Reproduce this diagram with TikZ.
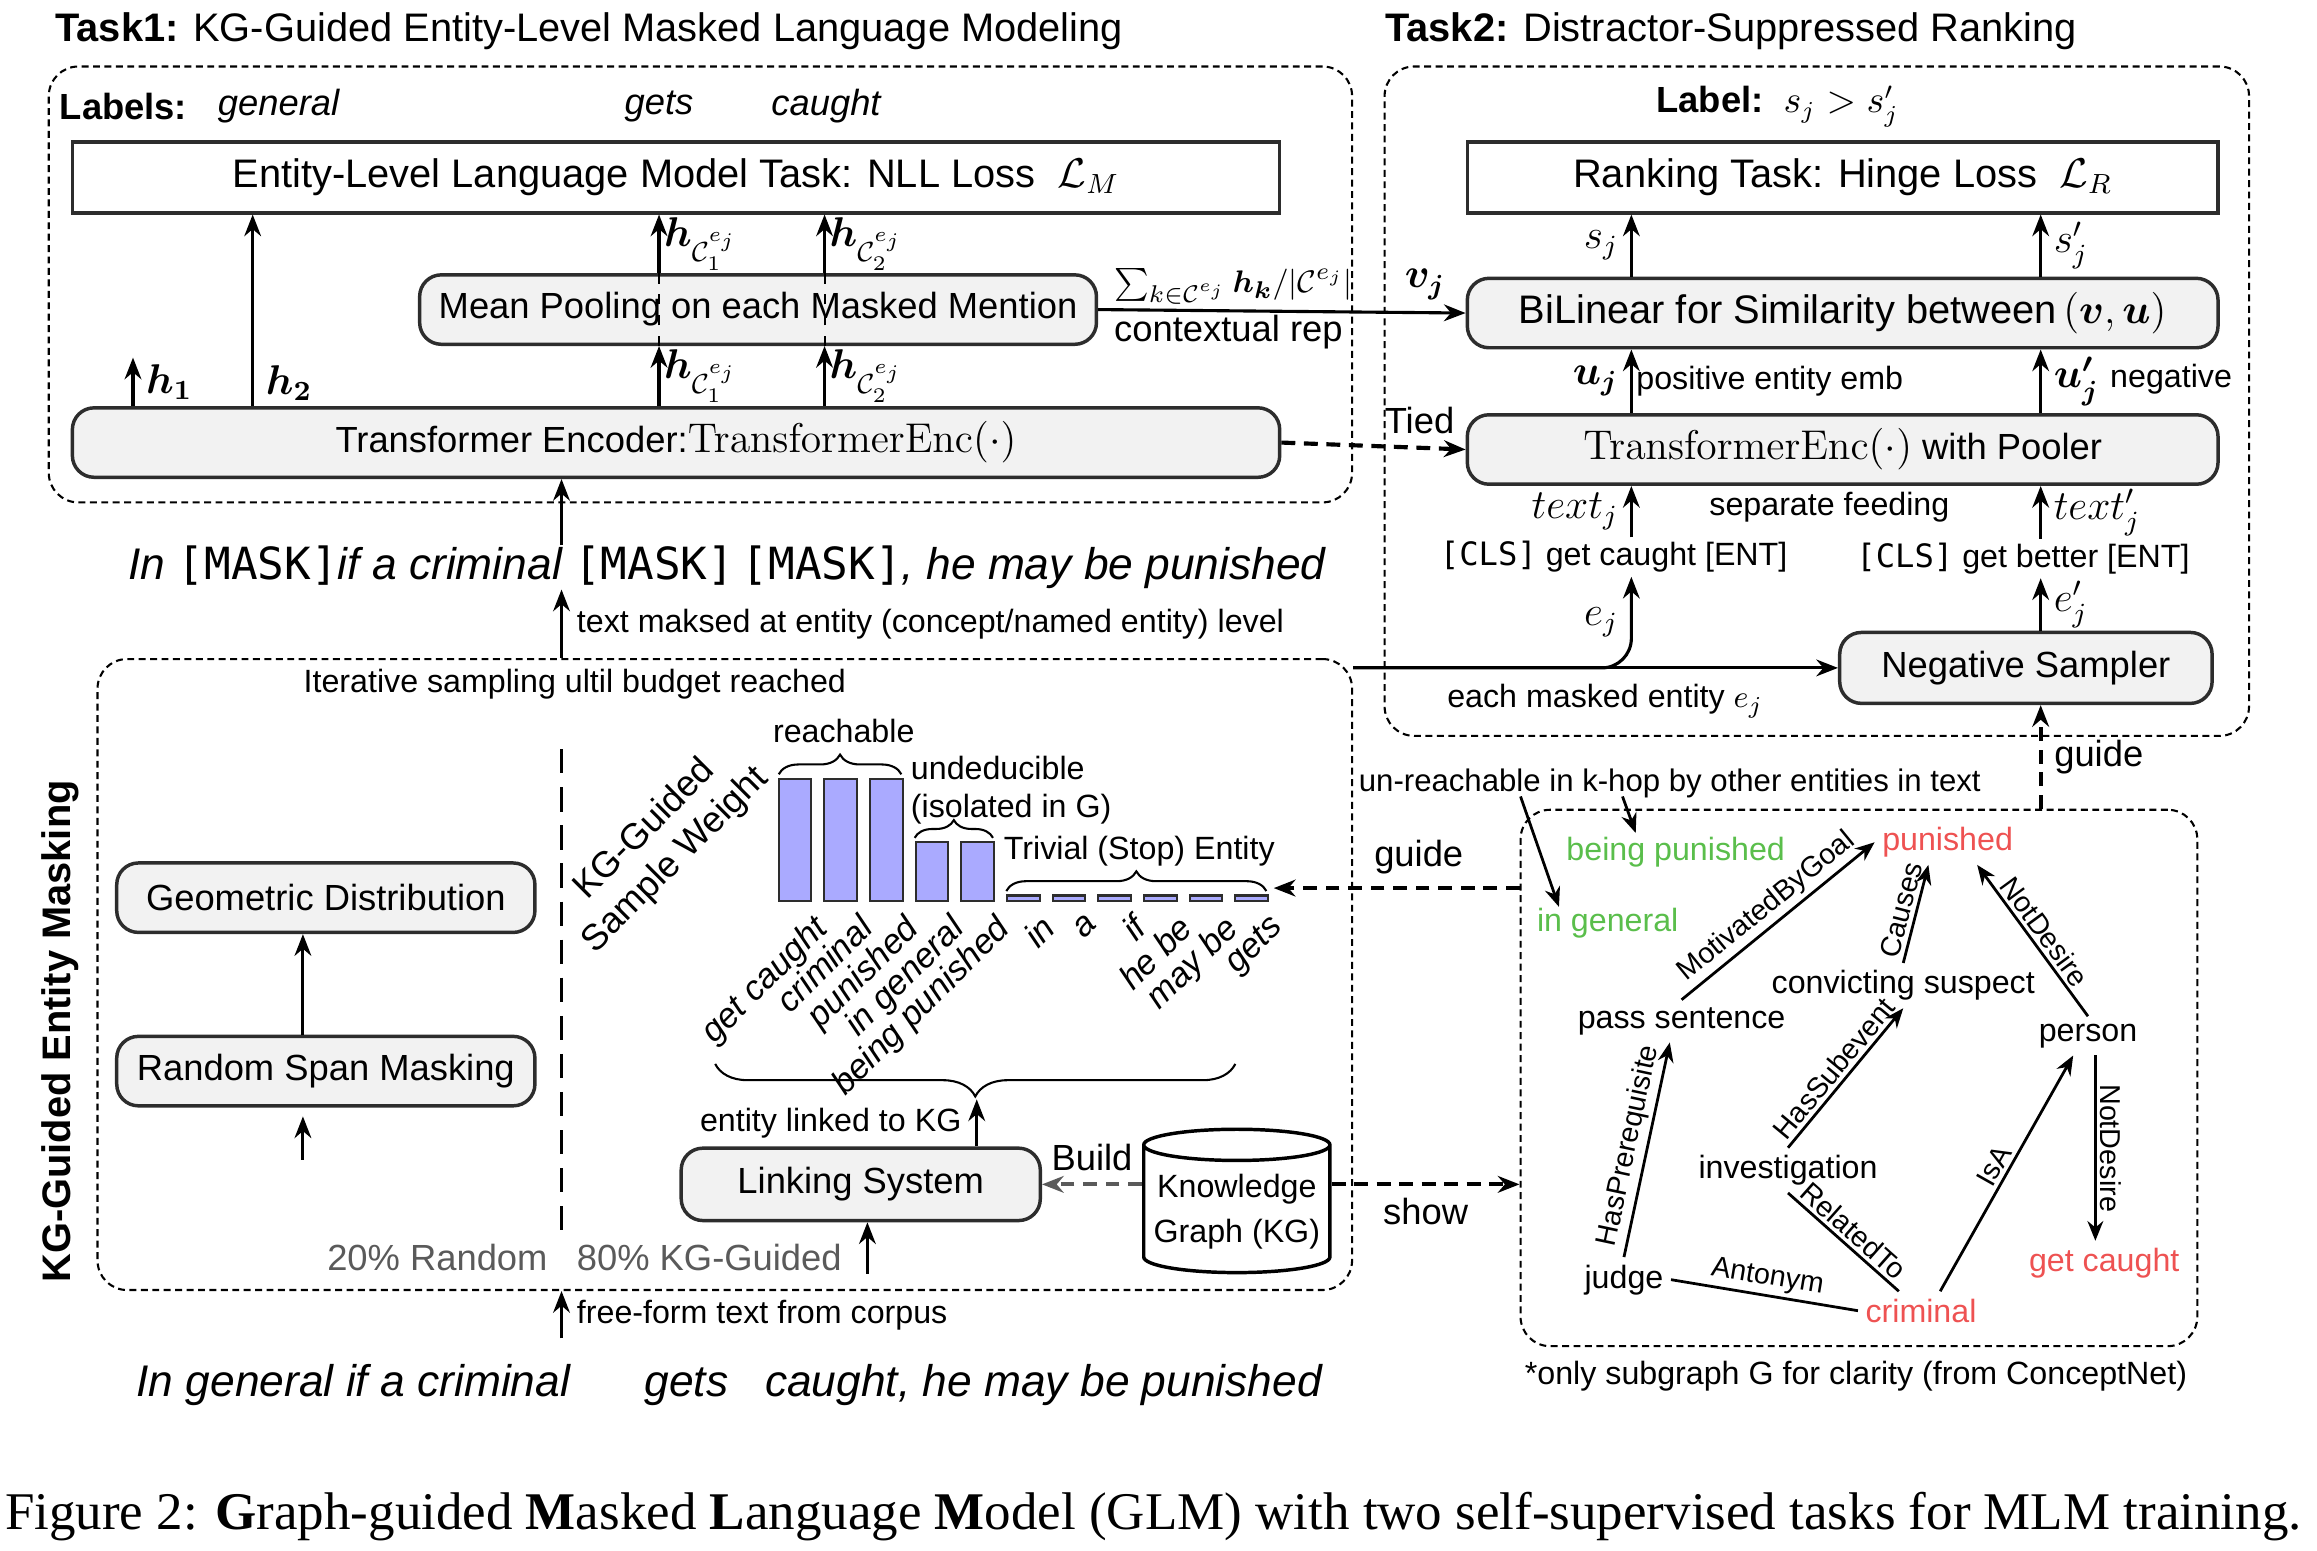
\documentclass[tikz,border=0pt]{standalone}
\usepackage{amsmath,amssymb}
\usepackage[no-math]{fontspec}
\setmainfont{Liberation Sans}
\setmonofont{DejaVu Sans Mono}
\newfontfamily\capfont{Liberation Serif}
\usetikzlibrary{arrows.meta,positioning,fit,calc,shapes.geometric,decorations.pathreplacing}
\definecolor{deep}{RGB}{45,45,45}
\definecolor{soft}{RGB}{242,242,242}
\definecolor{barfill}{RGB}{170,170,255}
\definecolor{kgreen}{RGB}{90,190,75}
\definecolor{kred}{RGB}{238,82,82}
\definecolor{muted}{RGB}{90,90,90}
\newcommand{\fbig}{\fontsize{11.5}{13.5}\selectfont}
\newcommand{\fmid}{\fontsize{10.5}{12.5}\selectfont}
\newcommand{\fsml}{\fontsize{9.3}{11}\selectfont}
\newcommand{\fbar}{\fontsize{10}{12}\selectfont}
\newcommand{\frel}{\fontsize{8.3}{10}\selectfont}
\newcommand{\fsent}{\fontsize{12.8}{15}\selectfont}
\newcommand{\mtok}[1]{\texttt{\upshape #1}}
\newcommand{\tenc}{{\fontsize{12.2}{14}\selectfont$\mathrm{TransformerEnc}(\cdot)$}}
\tikzset{
  loss/.style={draw=deep,line width=1pt,fill=white,font=\fbig,inner sep=0pt},
  co/.style={loss,rounded corners=2.2mm,fill=soft,font=\fmid},
  grp/.style={draw,dash pattern=on 2pt off 1.3pt,line width=0.6pt,rounded corners=3mm,inner sep=0pt},
  flow/.style={-{Stealth[length=2.2mm,width=1.7mm]},line width=0.9pt},
  tie/.style={flow,line width=1.2pt,dash pattern=on 4pt off 2.5pt},
  build/.style={tie,draw=muted},
  rel/.style={-{Stealth[length=2mm,width=1.6mm]},line width=0.8pt},
  lbl/.style={font=\fsml,inner sep=1pt},
  sent/.style={font=\fsent\itshape,inner sep=0pt},
  ent/.style={font=\fsml,inner sep=2pt},
  rname/.style={font=\frel,sloped,above,inner sep=1pt},
  bar/.style={draw=deep,line width=0.6pt,fill=barfill},
  barlbl/.style={rotate=45,anchor=north east,inner sep=0pt,font=\fbar\itshape},
  brc/.style={decorate,decoration={brace,amplitude=0.2cm},line width=0.6pt}
}

\begin{document}
\begin{tikzpicture}[x=0.015cm,y=-0.015cm]
\useasboundingbox (0,0) rectangle (1568,1049);
% columns used by the vertical arrows
\coordinate (spine) at (380,0);
\coordinate (h1col) at (90,0);
\coordinate (h2col) at (171,0);
\coordinate (c1col) at (446,0);
\coordinate (c2col) at (558,0);
\coordinate (pcol) at (1104,0);
\coordinate (ncol) at (1381,0);
\coordinate (gcol) at (205,0);

% Task 1
\node[anchor=west,font=\fbig,inner sep=0pt] (t1title) at (37,21) {\textbf{Task1:} KG-Guided Entity-Level Masked Language Modeling};
\node[grp,fit={(33,45) (915,340)}] (task1) {};
\node[anchor=west,font=\fmid,inner sep=0pt] (labs) at (40,72) {\textbf{Labels:}};
\node[anchor=west,font=\fmid\itshape,inner sep=0pt] (lgen) at (147,72) {general};
\node[font=\fmid\itshape,inner sep=0pt] (lgets) at (446,72) {gets};
\node[font=\fmid\itshape,inner sep=0pt] (lcaught) at (559,72) {caught};
\node[loss,minimum width=12.255cm,minimum height=0.72cm] (lossM) at (457.5,120) {Entity-Level Language Model Task: NLL Loss\ \ $\mathcal{L}_M$};
\node[co,minimum width=6.87cm,minimum height=0.705cm] (pool) at (513,209.5) {Mean Pooling on each Masked Mention};
\node[co,minimum width=12.255cm,minimum height=0.705cm] (enc) at (457.5,299.5) {Transformer Encoder:\tenc};

\coordinate (h1end) at (90,242);
\draw[flow] (enc.north -| h1col) -- (h1end) node[midway,right,font=\fbig] {$\boldsymbol{h_1}$};
\draw[flow] (enc.north -| h2col) -- (lossM.south -| h2col) node[pos=0.12,right,font=\fbig] {$\boldsymbol{h_2}$};
\foreach \c/\k in {c1col/1,c2col/2}{
  \draw[flow] (enc.north -| \c) -- (pool.south -| \c) node[midway,right,font=\fbig,inner sep=1pt] {$\boldsymbol{h}_{\mathcal{C}_\k^{e_j}}$};
  \draw[dashed,line width=0.6pt] (pool.south -| \c) -- (pool.north -| \c);
  \draw[flow] (pool.north -| \c) -- (lossM.south -| \c) node[midway,right,font=\fbig,inner sep=1pt] {$\boldsymbol{h}_{\mathcal{C}_\k^{e_j}}$};
}

% Task 2
\node[anchor=west,font=\fbig,inner sep=0pt] (t2title) at (937,21) {\textbf{Task2:} Distractor-Suppressed Ranking};
\node[grp,fit={(937,45) (1522,498)}] (task2) {};
\node[font=\fmid,inner sep=0pt] (lab2) at (1203,72) {\textbf{Label:}\ \ $s_j > s'_j$};
\node[loss,minimum width=7.62cm,minimum height=0.72cm] (lossR) at (1247,120) {Ranking Task: Hinge Loss\ \ $\mathcal{L}_R$};
\node[co,font=\fbig,minimum width=7.62cm,minimum height=0.705cm,below=0.63cm of lossR] (bilin) {BiLinear for Similarity between\,$(\boldsymbol{v},\boldsymbol{u})$};
\node[co,minimum width=7.62cm,minimum height=0.705cm,below=0.645cm of bilin] (pooler) {\tenc\ with Pooler};
\node[font=\fsml,inner sep=1pt] (postxt) at (1092,377) {\mtok{[CLS]} get caught [ENT]};
\node[font=\fsml,inner sep=1pt] (negtxt) at (1369,378) {\mtok{[CLS]} get better [ENT]};
\node[font=\fsml,inner sep=0pt] (sepf) at (1238,343) {separate feeding};
\node[co,minimum width=3.78cm,minimum height=0.72cm] (negs) at (1371,452) {Negative Sampler};

\draw[flow] (bilin.north -| pcol) -- (lossR.south -| pcol) node[midway,left,font=\fbig] {$s_j$};
\draw[flow] (bilin.north -| ncol) -- (lossR.south -| ncol) node[midway,right,font=\fbig] {$s'_j$};
\draw[flow] (pooler.north -| pcol) -- (bilin.south -| pcol) node[midway,left,font=\fbig] {$\boldsymbol{u_j}$} node[midway,right,font=\fsml,inner sep=1pt] {positive entity emb};
\draw[flow] (pooler.north -| ncol) -- (bilin.south -| ncol) node[midway,right,font=\fbig] {$\boldsymbol{u'_j}$ {\fsml negative}};
\draw[flow] (postxt.north -| pcol) -- (pooler.south -| pcol) node[midway,left,font=\fbig] {$text_j$};
\draw[flow] (negtxt.north -| ncol) -- (pooler.south -| ncol) node[midway,right,font=\fbig] {$text'_j$};
\draw[flow] (negs.north -| ncol) -- (negtxt.south -| ncol) node[midway,right,font=\fbig] {$e'_j$};

\draw[flow] (pool.east) -- (bilin.west)
  node[pos=0.03,anchor=south west,font=\fontsize{9.5}{11}\selectfont,inner sep=1pt] {$\sum_{k\in\mathcal{C}^{e_j}}\boldsymbol{h_k}/|\mathcal{C}^{e_j}|$}
  node[pos=0.03,anchor=north west,font=\fmid,inner sep=1pt] {contextual rep}
  node[pos=0.89,above,font=\fbig] {$\boldsymbol{v_j}$};
\draw[tie] (enc.east) -- (pooler.west) node[pos=0.75,above,font=\fmid] {Tied};

% masked sentence
\node[sent] (msent) at (492,384) {In \mtok{[MASK]}if a criminal \mtok{[MASK]}\,\mtok{[MASK]}, he may be punished};
\draw[flow] (msent.north -| spine) -- (enc.south -| spine);

% KG-guided masking
\node[grp,fit={(66,446) (915,873)}] (mask) {};
\draw[flow] (mask.north -| spine) -- (msent.south -| spine) node[midway,right=3pt,font=\fsml,inner sep=1pt] {text maksed at entity (concept/named entity) level};
\node[rotate=90,font=\fbig\bfseries,inner sep=0pt] (vtitle) at (41,698) {KG-Guided Entity Masking};
\node[font=\fsml,inner sep=0pt] (iter) at (389,463) {Iterative sampling ultil budget reached};
\draw[dash pattern=on 7pt off 4pt,line width=0.8pt] (380,507) -- (380,838);

\node[co,minimum width=4.245cm,minimum height=0.705cm] (geo) at (220.5,607.5) {Geometric Distribution};
\node[co,minimum width=4.245cm,minimum height=0.705cm,below=1.02cm of geo] (rsm) {Random Span Masking};
\draw[flow] (rsm.north -| gcol) -- (geo.south -| gcol);
\coordinate (rsmin) at (205,785);
\draw[flow] (rsmin) -- ($(rsm.south -| gcol)+(0,6)$);
\node[font=\fmid,text=muted,inner sep=0pt] (pctr) at (296,851) {20\% Random};
\node[font=\fmid,text=muted,inner sep=0pt] (pctk) at (480,851) {80\% KG-Guided};

\node[co,minimum width=3.645cm,minimum height=0.735cm] (link) at (582.5,801.5) {Linking System};
\node[cylinder,shape border rotate=90,aspect=0.18,draw=black,line width=1pt,minimum width=1.89cm,minimum height=1.455cm,align=center,font=\fsml,inner sep=1pt] (kg) at (837,820) {Knowledge\\[2pt]Graph (KG)};
\coordinate (linkin) at (587,862);
\draw[flow] (linkin) -- (link.south -| linkin);
\coordinate (btip) at (661,744);
\draw[flow] (link.north -| btip) -- (btip) node[midway,left=3pt,font=\fsml,inner sep=1pt] {entity linked to KG};
\draw[brc,decoration={brace,mirror,amplitude=0.33cm}] (484,720) -- (836,720);
\draw[build] (kg.west |- link.east) -- (link.east) node[midway,above,font=\fmid,text=black] {Build};

% sample weights
\foreach \h [count=\i from 0] in {83,83,83,40,40,4,4,4,4,4,4}
  \draw[bar] ({527+30.9*\i},610) rectangle ++(22,-\h);
\foreach \w [count=\i from 0] in {get caught,criminal,punished,in general,being punished,in,a,if,he be,may be,gets}
  \node[barlbl] at ({549+30.9*\i},617) {\w};
\node[rotate=45,font=\fmid,align=center,inner sep=0pt] (sw) at (447,572) {KG-Guided\\Sample Weight};
\draw[brc] (527,524) -- (610,524);
\node[font=\fsml,inner sep=0pt] (reach) at (571,495) {reachable};
\draw[brc,decoration={amplitude=0.18cm}] (619,567) -- (672,567);
\node[font=\fsml,align=left,anchor=west,inner sep=0pt] (undd) at (616,535) {undeducible\\(isolated in G)};
\draw[brc] (681,603) -- (857,603);
\node[font=\fsml,inner sep=0pt] (triv) at (771,576) {Trivial (Stop) Entity};

% raw sentence
\node[sent,anchor=base west] (raw1) at (92,945) {In general if a criminal};
\node[sent,base right=0.74cm of raw1] (raw2) {gets};
\node[sent,base right=0.36cm of raw2] (raw3) {caught, he may be punished};
\draw[flow] ($(raw1.north -| spine)+(0,-17)$) -- (mask.south -| spine) node[midway,right=3pt,font=\fsml,inner sep=1pt] {free-form text from corpus};

% subgraph
\node[grp,fit={(1029,548) (1487,911)}] (graph) {};
\node[font=\fsml,inner sep=0pt] (gnote) at (1256,931) {*only subgraph G for clarity (from ConceptNet)};
\node[font=\fontsize{9}{11}\selectfont,inner sep=0pt] (unr) at (1130,530) {un-reachable in k-hop by other entities in text};
\node[ent,text=kgreen] (beingp) at (1134,577) {being punished};
\node[ent,text=kred] (punished) at (1318,570) {punished};
\node[ent,text=kgreen] (ingen) at (1088,625) {in general};
\node[ent] (convict) at (1288,667) {convicting suspect};
\node[ent] (pass) at (1138,691) {pass sentence};
\node[ent] (person) at (1413,701) {person};
\node[ent] (invest) at (1210,792) {investigation};
\node[ent] (judge) at (1099,866) {judge};
\node[ent,text=kred] (criminal) at (1300,887) {criminal};
\node[ent,text=kred] (caught) at (1424,855) {get caught};

\coordinate (u1) at (1029,539);
\coordinate (u2) at (1098,539);
\draw[rel] (u1) -- ($(ingen.north west)+(20,4)$);
\draw[rel] (u2) -- ($(beingp.north west)+(52,2)$);
\draw[rel] (pass.north) -- (punished.west) node[rname,midway] {MotivatedByGoal};
\draw[rel] (convict.north) -- ($(punished.south)+(-13,0)$) node[rname,midway] {Causes};
\draw[rel] (person.north) -- ($(punished.south)+(20,0)$) node[rname,midway] {NotDesire};
\draw[rel] ($(person.south)+(5,0)$) -- ($(caught.north)+(-6,0)$) node[rname,midway] {NotDesire};
\draw[rel] ($(criminal.north)+(13,0)$) -- ($(person.south)+(-10,0)$) node[rname,midway] {IsA};
\draw[rel] (judge.north) -- ($(pass.south)+(-8,0)$) node[rname,midway] {HasPrerequisite};
\draw[rel] (invest.north) -- (convict.south) node[rname,midway] {HasSubevent};
\draw[line width=0.8pt] (invest.south) -- ($(criminal.north)+(-15,0)$) node[rname,midway] {RelatedTo};
\draw[line width=0.8pt] (judge.east) -- (criminal.west) node[rname,midway] {Antonym};

% links between the parts
\draw[flow] (mask.east |- negs.west) -- (negs.west) node[pos=0.52,below=1pt,font=\fsml] {each masked entity $e_j$};
\draw[flow,rounded corners=0.3cm] (mask.east |- negs.west) -| (postxt.south -| pcol) node[pos=0.75,left,font=\fbig] {$e_j$};
\draw[tie] (graph.north -| ncol) -- (negs.south -| ncol) node[midway,right,font=\fmid] {guide};
\coordinate (barend) at (862,601);
\draw[tie] (graph.west |- barend) -- (barend) node[pos=0.41,above,font=\fmid] {guide};
\draw[tie] (kg.east |- link.east) -- (graph.west |- link.east) node[midway,below,font=\fmid] {show};

% caption
\node[anchor=base west,font=\capfont\fontsize{15.3}{18}\selectfont,inner sep=0pt] (cap) at (3,1035) {Figure 2: \textbf{G}raph-guided \textbf{M}asked \textbf{L}anguage \textbf{M}odel (GLM) with two self-supervised tasks for MLM training.};
\end{tikzpicture}
\end{document}
